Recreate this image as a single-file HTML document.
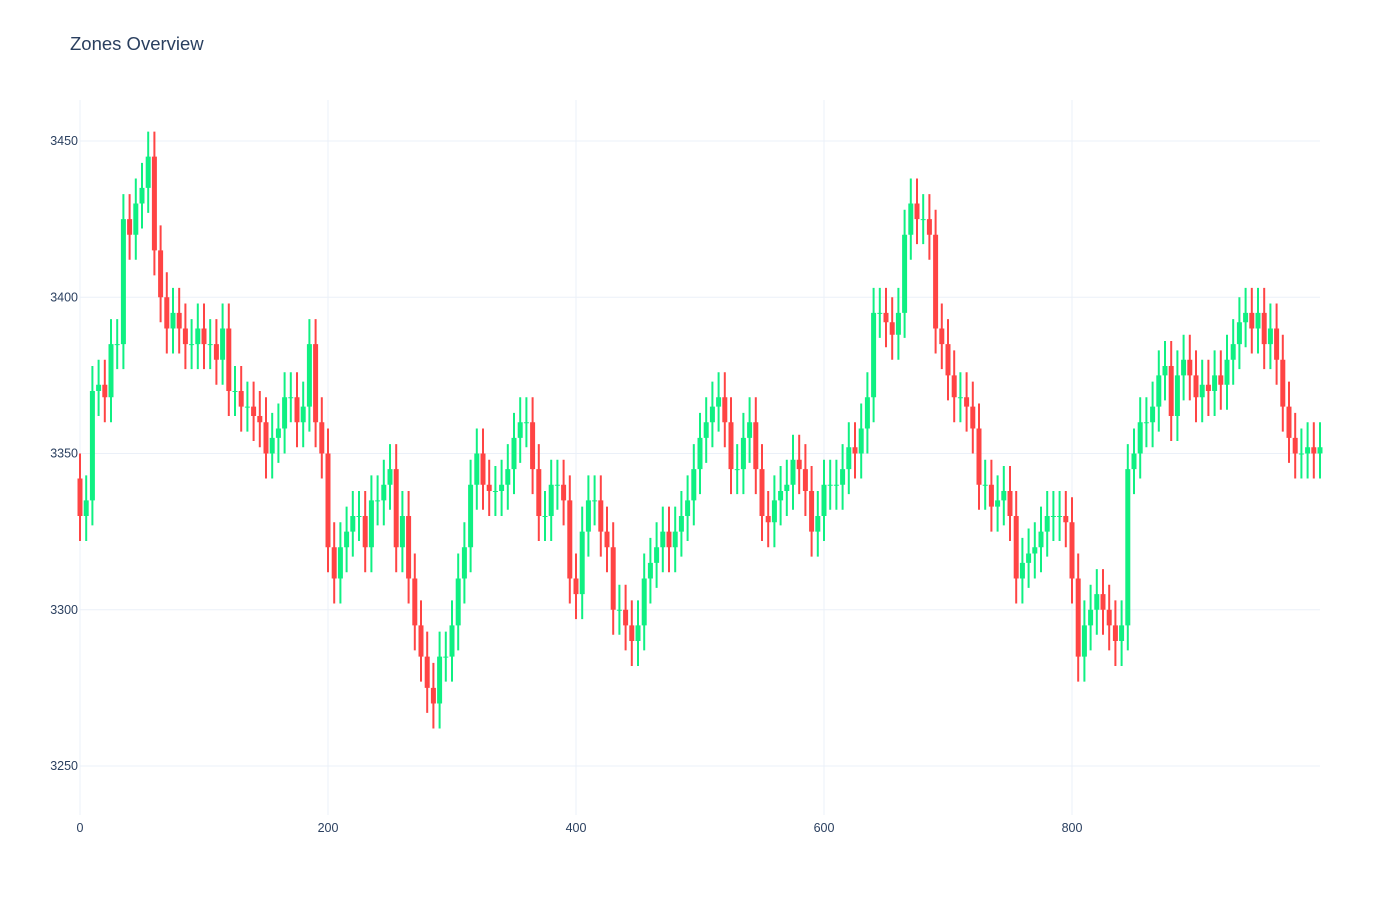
<!DOCTYPE html>
<html><head><meta charset="utf-8"><style>
body{margin:0;background:#fff;font-family:"Liberation Sans",sans-serif}
svg text{font-family:"Liberation Sans",sans-serif;fill:#2a3f5f}
</style></head><body>
<svg id="chart" width="1400" height="900">
<text x="70" y="50" font-size="18.5">Zones Overview</text>
<g id="grid"></g><g id="candles"></g><g id="axes"></g>
</svg>
<script>
const xTicks=[0,200,400,600,800];
const yTicks=[3250,3300,3350,3400,3450];
const step=5;
const closes=[3330,3335,3370,3372,3368,3385,3385,3425,3420,3430,3435,3445,3415,3400,3390,3395,3390,3385,3385,3390,3385,3385,3380,3390,3370,3370,3365,3365,3362,3360,3350,3355,3358,3368,3368,3360,3365,3385,3360,3350,3320,3310,3320,3325,3330,3330,3320,3335,3335,3340,3345,3320,3330,3310,3295,3285,3275,3270,3285,3285,3295,3310,3320,3340,3350,3340,3338,3338,3340,3345,3355,3360,3360,3345,3330,3330,3340,3340,3335,3310,3305,3325,3335,3335,3325,3320,3300,3300,3295,3290,3295,3310,3315,3320,3325,3320,3325,3330,3335,3345,3355,3360,3365,3368,3360,3345,3345,3355,3360,3345,3330,3328,3335,3338,3340,3348,3345,3338,3325,3330,3340,3340,3340,3345,3352,3350,3358,3368,3395,3395,3392,3388,3395,3420,3430,3425,3425,3420,3390,3385,3375,3368,3368,3365,3358,3340,3340,3333,3335,3338,3330,3310,3315,3318,3320,3325,3330,3330,3330,3328,3310,3285,3295,3300,3305,3300,3295,3290,3295,3345,3350,3360,3360,3365,3375,3378,3362,3375,3380,3375,3368,3372,3370,3375,3372,3380,3385,3392,3395,3390,3395,3385,3390,3380,3365,3355,3350,3350,3352,3350,3352];
const opens=[3342].concat(closes.slice(0,-1));
const wick=8;
const X=v=>80+v*1.24;
const Y=v=>141+(3450-v)*3.125;
const NS="http://www.w3.org/2000/svg";
function mk(t,a,p){const e=document.createElementNS(NS,t);for(const k in a)e.setAttribute(k,a[k]);p.appendChild(e);return e;}
const grid=document.getElementById('grid'),cg=document.getElementById('candles'),ax=document.getElementById('axes');
yTicks.forEach(v=>{
 const l=mk('line',{x1:80,x2:1320,y1:Y(v),y2:Y(v),stroke:'#ebf0f8','stroke-width':1},grid);
 
 
 const t=mk('text',{x:78,y:Y(v)+4,'text-anchor':'end','font-size':12.5},ax);t.textContent=v;
 
 
});
xTicks.forEach(v=>{
 const l=mk('line',{x1:X(v),x2:X(v),y1:100,y2:815,stroke:'#ebf0f8','stroke-width':1},grid);
 
 
 const t=mk('text',{x:X(v),y:832,'text-anchor':'middle','font-size':12.5},ax);t.textContent=v;
 
 
});
closes.forEach((c,i)=>{
 const o=opens[i],up=c>=o,col=up?'#0ff082':'#ff4444';
 const x=X(i*step);
 const hi=Math.max(o,c)+wick,lo=Math.min(o,c)-wick;
 const g=mk('g',{},cg);
 
 
 mk('line',{x1:x,x2:x,y1:Y(hi),y2:Y(lo),stroke:col,'stroke-width':2},g);
 const top=Y(Math.max(o,c)),h=Math.max(1,Y(Math.min(o,c))-top);
 mk('rect',{x:x-2.5,y:top,width:5,height:h,fill:col},g);
});
</script>
</body></html>
